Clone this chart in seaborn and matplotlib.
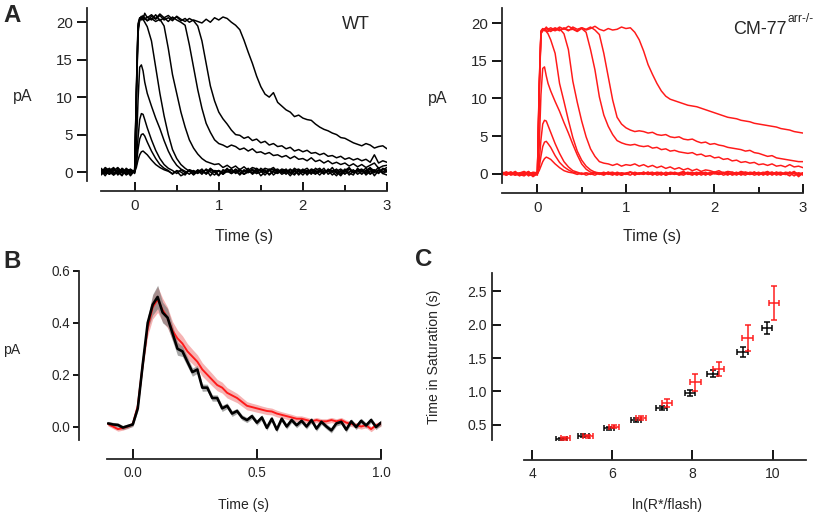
import matplotlib
matplotlib.use("Agg")
import matplotlib.pyplot as plt
import numpy as np
import pandas as pd
import seaborn as sns

# ---------------- Panel A data (pA vs time, s) ----------------
time_a = [-0.4, -0.35, -0.3, -0.25, -0.2, -0.15, -0.1, -0.05, 0.0,
          0.02, 0.04, 0.06, 0.08, 0.1, 0.12, 0.15,
          0.2, 0.25, 0.3, 0.35, 0.4, 0.45, 0.5, 0.55, 0.6, 0.65,
          0.7, 0.75, 0.8, 0.85, 0.9, 0.95, 1.0, 1.05, 1.1, 1.15,
          1.2, 1.25, 1.3, 1.35, 1.4, 1.45, 1.5, 1.55, 1.6, 1.65,
          1.7, 1.75, 1.8, 1.85, 1.9, 1.95, 2.0, 2.05, 2.1, 2.15,
          2.2, 2.25, 2.3, 2.35, 2.4, 2.45, 2.5, 2.55, 2.6, 2.65,
          2.7, 2.75, 2.8, 2.85, 2.9, 2.95, 3.0]

wt_1 = [0.3, -0.2, 0.4, -0.3, 0.1, -0.4, 0.5, -0.1, 0.0,
        0.6, 1.6, 2.3, 2.7, 2.8, 2.6, 2.3,
        1.6, 1.0, 0.6, 0.3, 0.1, -0.2, 0.1, -0.5, -0.2, 0.3,
        -0.1, 0.2, -0.3, 0.4, 0.0, -0.4, 0.2, -0.1, 0.5, -0.2,
        0.1, -0.3, 0.3, -0.1, 0.4, -0.2, 0.0, 0.3, -0.4, 0.1,
        0.2, -0.3, 0.0, 0.4, -0.2, 0.1, -0.4, 0.2, 0.0, -0.3,
        0.3, -0.1, 0.2, -0.4, 0.1, 0.4, -0.2, 0.0, 0.3, -0.3,
        0.1, 0.5, -0.2, 0.2, -0.1, 0.4, 0.0]
wt_2 = [-0.3, 0.4, 0.0, 0.5, -0.4, 0.2, -0.2, 0.3, 0.1,
        1.0, 3.0, 4.4, 5.0, 5.1, 4.8, 4.0,
        2.8, 1.8, 1.0, 0.5, 0.2, -0.3, 0.2, 0.0, -0.4, 0.3,
        0.1, -0.2, 0.4, -0.3, 0.2, 0.0, -0.5, 0.3, 0.1, -0.2,
        0.4, 0.0, -0.3, 0.2, -0.1, 0.5, 0.1, -0.4, 0.2, 0.0,
        -0.2, 0.3, 0.1, -0.5, 0.2, 0.4, -0.1, 0.0, 0.3, -0.2,
        0.0, 0.5, -0.3, 0.1, 0.3, -0.2, 0.4, -0.4, 0.1, 0.2,
        -0.3, 0.2, 0.6, -0.1, 0.3, -0.2, 0.1]
wt_3 = [0.5, 0.0, -0.3, 0.2, 0.6, -0.1, 0.3, -0.5, 0.2,
        1.5, 4.5, 7.0, 7.8, 7.7, 7.0, 5.9,
        4.3, 2.9, 1.8, 1.0, 0.5, 0.2, -0.2, 0.3, -0.1, 0.2,
        -0.4, 0.1, 0.3, -0.2, 0.5, 0.0, 0.2, -0.3, 0.1, 0.4,
        -0.2, 0.2, 0.0, 0.5, -0.3, 0.1, 0.3, -0.1, 0.4, -0.4,
        0.1, 0.0, 0.4, -0.2, 0.3, -0.4, 0.2, 0.5, -0.1, 0.1,
        -0.4, 0.2, 0.0, 0.6, -0.2, 0.1, -0.3, 0.4, 0.0, 0.2,
        0.4, -0.4, 0.1, 0.3, -0.2, 0.5, 0.2]
wt_4 = [-0.1, 0.6, 0.2, -0.4, 0.0, 0.4, -0.3, 0.1, 0.0,
        3.0, 9.5, 14.0, 14.3, 13.5, 12.0, 10.5,
        8.8, 7.2, 5.8, 4.2, 2.8, 1.7, 0.9, 0.4, 0.1, -0.3,
        0.2, -0.1, 0.0, 0.3, -0.5, 0.2, 0.1, -0.3, 0.4, 0.0,
        0.3, -0.4, 0.2, 0.1, -0.2, 0.3, -0.5, 0.0, 0.2, 0.4,
        -0.1, 0.2, -0.3, 0.3, 0.1, -0.2, 0.4, -0.4, 0.2, 0.0,
        0.2, -0.3, 0.4, 0.0, -0.5, 0.3, 0.1, -0.1, -0.4, 0.5,
        0.0, 0.2, -0.3, 0.1, 0.6, -0.2, -0.4]
wt_5 = [0.2, -0.5, 0.3, 0.0, -0.2, 0.5, 0.1, -0.3, 0.3,
        10.0, 19.0, 20.4, 20.6, 20.4, 20.0, 19.4,
        17.5, 14.0, 10.5, 7.5, 5.0, 3.0, 1.8, 1.0, 0.5, 0.1,
        -0.3, 0.3, 0.0, -0.2, 0.4, 0.1, -0.4, 0.2, 0.0, 0.3,
        -0.1, 0.4, -0.3, 0.0, 0.2, -0.2, 0.5, 0.1, -0.3, 0.2,
        0.4, -0.1, 0.2, 0.0, -0.4, 0.3, 0.1, 0.2, -0.3, 0.5,
        0.1, -0.2, 0.3, 0.2, 0.0, -0.5, 0.2, 0.4, -0.1, 0.0,
        0.3, -0.1, 0.4, -0.5, 0.2, 0.0, 0.3]
wt_6 = [-0.4, 0.1, 0.5, -0.2, 0.3, -0.1, 0.0, 0.4, -0.2,
        11.0, 19.5, 20.5, 20.8, 20.3, 20.6, 20.2,
        20.5, 20.1, 20.4, 19.5, 16.5, 13.0, 10.5, 8.0, 6.0, 4.3,
        3.2, 2.4, 1.8, 1.4, 1.2, 1.0, 1.1, 0.6, 0.9, 0.5,
        0.8, 0.3, 0.7, 0.2, 0.6, 0.4, 0.1, 0.5, 0.3, 0.6,
        0.0, 0.4, 0.2, -0.1, 0.5, 0.1, 0.3, -0.2, 0.4, 0.2,
        0.5, -0.1, 0.3, 0.0, 0.4, -0.3, 0.2, 0.6, -0.1, 0.3,
        0.1, -0.2, 0.5, 0.2, -0.1, 0.3, 0.6]
wt_7 = [0.1, 0.4, -0.3, 0.3, 0.0, -0.5, 0.4, 0.2, -0.1,
        9.0, 18.5, 20.3, 20.5, 20.8, 20.4, 20.7,
        20.3, 21.0, 20.2, 20.6, 20.1, 20.7, 20.3, 20.0, 19.6, 17.0,
        14.0, 11.0, 8.5, 6.5, 5.3, 4.3, 3.8, 3.6, 3.3, 3.6,
        3.4, 3.0, 3.2, 2.8, 3.1, 2.6, 2.7, 2.4, 2.6, 2.2,
        2.3, 2.0, 2.2, 1.8, 2.1, 1.7, 1.8, 1.5, 1.9, 1.4,
        1.6, 1.2, 1.5, 1.1, 1.3, 1.0, 1.2, 0.8, 1.1, 0.7,
        1.0, 0.6, 0.9, 1.2, 0.5, 0.8, 0.9]
wt_8 = [0.3, -0.2, 0.2, 0.6, -0.3, 0.2, -0.4, 0.0, 0.2,
        10.5, 19.8, 20.6, 20.3, 20.9, 20.5, 20.2,
        20.8, 20.4, 20.9, 20.3, 20.6, 20.2, 20.8, 20.4, 20.1, 20.5,
        20.2, 19.5, 17.5, 14.5, 11.5, 9.5, 8.0, 7.1, 6.4, 5.6,
        5.0, 4.9, 4.5, 4.7, 4.2, 4.4, 3.9, 4.1, 3.6, 3.8,
        3.4, 3.5, 3.1, 3.3, 2.8, 3.0, 2.7, 2.9, 2.5, 2.6,
        2.3, 2.5, 2.1, 2.2, 1.9, 2.1, 1.7, 1.9, 1.6, 1.8,
        1.5, 1.7, 1.3, 2.3, 1.2, 1.5, 1.3]
wt_9 = [-0.2, 0.3, 0.0, -0.4, 0.5, 0.1, -0.2, 0.3, 0.0,
        9.5, 19.2, 20.3, 20.7, 20.4, 21.2, 20.6,
        21.0, 20.5, 21.1, 20.6, 20.9, 20.4, 20.7, 20.2, 20.5, 20.0,
        20.3, 20.1, 19.9, 20.4, 20.0, 20.6, 20.3, 20.7, 20.5, 20.0,
        19.6, 19.0, 17.6, 16.0, 14.5, 12.8, 11.4, 10.4, 10.0, 10.6,
        9.3, 8.8, 8.3, 8.0, 7.4, 7.6, 7.2, 7.0, 6.9, 6.4,
        6.0, 5.7, 5.5, 5.2, 5.0, 4.6, 4.5, 4.2, 3.9, 3.7,
        3.5, 3.8, 3.6, 3.2, 3.4, 3.5, 3.1]

cm_1 = [0.1, -0.2, 0.2, 0.0, -0.3, 0.2, -0.1, 0.1, 0.0,
        0.4, 1.0, 1.6, 2.0, 2.2, 2.1, 1.9,
        1.3, 0.8, 0.4, 0.2, 0.1, -0.1, 0.1, -0.2, 0.0, 0.2,
        -0.1, 0.1, 0.0, -0.2, 0.2, 0.0, -0.1, 0.2, -0.2, 0.1,
        0.0, 0.2, -0.1, 0.1, -0.2, 0.2, 0.0, -0.1, 0.1, 0.3,
        -0.1, 0.0, 0.2, -0.2, 0.1, 0.0, 0.2, -0.1, 0.1, -0.2,
        0.2, 0.0, -0.1, 0.2, 0.1, -0.2, 0.0, 0.2, -0.1, 0.1,
        0.0, -0.2, 0.2, 0.1, -0.3, 0.1, 0.0]
cm_2 = [-0.1, 0.2, 0.0, -0.2, 0.1, 0.3, -0.1, -0.3, 0.1,
        0.8, 2.3, 3.6, 4.2, 4.3, 4.0, 3.5,
        2.4, 1.5, 0.9, 0.5, 0.2, 0.1, -0.1, 0.1, 0.0, -0.2,
        0.1, 0.0, 0.2, -0.1, 0.1, -0.2, 0.0, 0.2, 0.1, -0.1,
        0.2, -0.1, 0.0, 0.2, 0.1, -0.2, 0.1, 0.0, -0.1, 0.2,
        0.0, 0.1, -0.2, 0.2, -0.1, 0.1, 0.0, 0.2, -0.2, 0.0,
        0.1, -0.2, 0.2, 0.0, -0.1, 0.2, -0.2, 0.1, 0.3, -0.1,
        0.2, 0.0, -0.1, 0.2, 0.0, 0.1, -0.2]
cm_3 = [0.2, 0.0, -0.1, 0.3, -0.2, 0.0, 0.2, -0.1, 0.0,
        1.5, 4.5, 6.6, 7.1, 7.0, 6.4, 5.5,
        4.0, 2.7, 1.6, 0.9, 0.4, 0.2, 0.0, 0.1, -0.1, 0.1,
        0.0, -0.2, 0.1, 0.2, -0.1, 0.1, 0.0, -0.2, 0.2, 0.0,
        -0.1, 0.1, 0.2, -0.2, 0.0, 0.1, -0.1, 0.2, 0.0, -0.2,
        0.1, 0.2, -0.1, 0.0, 0.2, -0.2, 0.1, 0.0, 0.2, -0.1,
        0.0, 0.2, -0.2, 0.1, 0.0, 0.2, -0.1, 0.0, 0.1, 0.2,
        -0.2, 0.1, 0.0, -0.3, 0.2, -0.4, 0.1]
cm_4 = [-0.2, 0.1, 0.2, -0.1, 0.0, 0.2, -0.3, 0.1, 0.0,
        3.5, 10.5, 14.0, 14.2, 13.0, 12.0, 11.0,
        9.6, 8.3, 6.8, 5.4, 3.9, 2.5, 1.3, 0.6, 0.2, 0.1,
        0.0, 0.2, -0.1, 0.1, 0.0, -0.2, 0.1, 0.2, -0.1, 0.0,
        0.2, -0.1, 0.1, 0.0, 0.2, -0.2, 0.0, 0.1, -0.1, 0.2,
        0.0, -0.2, 0.1, 0.2, -0.1, 0.0, 0.2, -0.1, 0.1, 0.0,
        -0.1, 0.1, 0.0, -0.2, 0.2, 0.1, 0.0, -0.1, 0.2, -0.2,
        0.1, 0.2, -0.1, 0.0, 0.2, -0.1, 0.1]
cm_5 = [0.0, -0.2, 0.1, 0.2, -0.1, -0.3, 0.1, 0.0, 0.2,
        11.0, 18.6, 19.0, 19.2, 18.9, 18.6, 17.8,
        16.0, 12.0, 9.6, 7.1, 4.8, 3.0, 1.8, 1.0, 0.5, 0.2,
        0.1, -0.1, 0.2, 0.0, -0.2, 0.1, 0.0, 0.2, -0.1, 0.1,
        0.0, 0.2, -0.2, 0.1, 0.0, -0.1, 0.2, 0.1, -0.2, 0.0,
        0.2, -0.1, 0.0, 0.1, -0.2, 0.2, 0.0, -0.1, 0.1, 0.2,
        -0.2, 0.0, 0.1, 0.2, -0.1, 0.0, 0.2, -0.2, 0.1, 0.0,
        0.2, -0.1, 0.1, 0.0, 0.3, -0.2, 0.0]
cm_6 = [0.1, 0.2, -0.2, 0.0, 0.1, -0.1, 0.2, 0.0, -0.2,
        12.0, 18.8, 19.1, 19.3, 19.0, 18.9, 19.2,
        19.0, 19.3, 18.6, 16.5, 12.3, 9.5, 7.0, 4.9, 3.3, 2.3,
        1.6, 1.4, 1.3, 1.1, 1.3, 1.0, 1.2, 1.1, 1.3, 1.0,
        1.2, 0.9, 1.1, 0.8, 1.0, 0.7, 0.9, 0.6, 0.8, 0.5,
        0.7, 0.4, 0.6, 0.3, 0.5, 0.4, 0.2, 0.4, 0.1, 0.3,
        0.2, 0.0, 0.3, 0.1, -0.1, 0.2, 0.0, 0.1, -0.2, 0.2,
        0.0, 0.1, -0.1, 0.2, 0.0, -0.2, 0.1]
cm_7 = [-0.1, 0.0, 0.2, -0.2, 0.1, 0.0, -0.1, 0.2, 0.1,
        10.5, 18.9, 19.2, 19.0, 19.4, 19.1, 18.9,
        19.3, 19.0, 19.4, 19.1, 19.2, 18.9, 19.3, 18.8, 16.5, 13.8,
        10.2, 7.8, 6.3, 5.2, 4.4, 4.1, 3.9, 3.8, 3.9, 3.7,
        3.6, 3.7, 3.4, 3.5, 3.2, 3.3, 3.0, 3.1, 2.9, 2.8,
        2.7, 2.8, 2.5, 2.6, 2.3, 2.4, 2.1, 2.2, 1.9, 2.0,
        1.7, 1.8, 1.5, 1.6, 1.4, 1.5, 1.2, 1.3, 1.1, 1.3,
        1.0, 1.1, 0.9, 1.2, 0.9, 1.0, 0.8]
cm_8 = [0.2, -0.1, 0.0, 0.1, -0.2, 0.2, 0.0, -0.1, 0.1,
        11.5, 19.0, 19.3, 19.1, 19.5, 19.2, 19.4,
        19.1, 19.5, 19.2, 19.6, 19.3, 19.0, 19.4, 19.2, 19.5, 19.1,
        18.5, 16.0, 12.9, 9.8, 7.5, 6.6, 6.1, 5.8, 5.6, 5.7,
        5.6, 5.4, 5.5, 5.2, 5.1, 5.2, 4.9, 4.8, 4.9, 4.6,
        4.5, 4.6, 4.3, 4.1, 4.2, 3.9, 4.0, 3.8, 3.7, 3.5,
        3.4, 3.3, 3.2, 3.0, 3.1, 2.8, 2.7, 2.5, 2.3, 2.4,
        2.1, 2.0, 1.9, 1.8, 1.7, 1.6, 1.6]
cm_9 = [0.0, 0.2, -0.1, 0.1, -0.2, 0.0, 0.3, -0.4, 0.0,
        10.0, 18.7, 19.0, 19.2, 19.0, 19.3, 19.1,
        19.4, 19.1, 19.3, 19.0, 19.5, 19.2, 19.4, 19.1, 19.3, 19.6,
        19.2, 19.0, 19.3, 19.1, 19.2, 19.5, 19.3, 19.4, 18.8, 17.8,
        16.3, 14.5, 13.2, 12.0, 11.0, 10.3, 9.9, 9.7, 9.5, 9.3,
        9.1, 9.0, 8.9, 8.7, 8.5, 8.3, 8.1, 7.9, 7.7, 7.5,
        7.4, 7.3, 7.1, 7.0, 6.9, 6.7, 6.6, 6.5, 6.4, 6.3,
        6.2, 6.0, 5.9, 5.8, 5.6, 5.5, 5.4]

# ---------------- Panel B data (mean +/- sem, pA) ----------------
time_b = [-0.10, -0.08, -0.06, -0.04, -0.02, 0.00, 0.02, 0.04, 0.06, 0.08,
          0.10, 0.12, 0.14, 0.16, 0.18, 0.20, 0.22, 0.24, 0.26, 0.28,
          0.30, 0.32, 0.34, 0.36, 0.38, 0.40, 0.42, 0.44, 0.46, 0.48,
          0.50, 0.52, 0.54, 0.56, 0.58, 0.60, 0.62, 0.64, 0.66, 0.68,
          0.70, 0.72, 0.74, 0.76, 0.78, 0.80, 0.82, 0.84, 0.86, 0.88,
          0.90, 0.92, 0.94, 0.96, 0.98, 1.00]
wt_mean_b = [0.012, 0.008, 0.006, -0.004, 0.002, 0.008, 0.07, 0.24, 0.40, 0.47,
             0.50, 0.44, 0.42, 0.36, 0.30, 0.29, 0.25, 0.21, 0.22, 0.15,
             0.15, 0.11, 0.11, 0.07, 0.08, 0.05, 0.06, 0.035, 0.025, 0.04,
             0.015, 0.035, -0.005, 0.03, -0.012, 0.03, 0.0, 0.025, 0.005, 0.022,
             0.0, 0.025, -0.008, 0.018, 0.0, -0.015, 0.012, 0.018, -0.012, 0.02,
             -0.002, 0.022, 0.004, 0.025, -0.002, 0.015]
wt_sem_b = [0.008, 0.008, 0.008, 0.008, 0.008, 0.008, 0.01, 0.015, 0.025, 0.04,
            0.045, 0.04, 0.035, 0.03, 0.025, 0.02, 0.018, 0.016, 0.015, 0.014,
            0.013, 0.012, 0.012, 0.012, 0.011, 0.011, 0.01, 0.01, 0.01, 0.01,
            0.01, 0.01, 0.01, 0.01, 0.01, 0.01, 0.01, 0.01, 0.01, 0.01,
            0.01, 0.01, 0.01, 0.01, 0.01, 0.01, 0.01, 0.01, 0.01, 0.01,
            0.01, 0.01, 0.01, 0.01, 0.01, 0.01]
cm_mean_b = [0.01, 0.0, -0.01, -0.006, 0.0, 0.01, 0.08, 0.24, 0.38, 0.46,
             0.49, 0.45, 0.42, 0.37, 0.34, 0.32, 0.29, 0.27, 0.25, 0.22,
             0.20, 0.18, 0.16, 0.15, 0.13, 0.12, 0.11, 0.095, 0.08, 0.075,
             0.07, 0.065, 0.06, 0.058, 0.05, 0.045, 0.04, 0.035, 0.03, 0.03,
             0.025, 0.02, 0.025, 0.02, 0.02, 0.025, 0.02, 0.025, 0.015, 0.01,
             0.005, 0.0, 0.005, -0.01, 0.005, 0.01]
cm_sem_b = [0.008, 0.008, 0.008, 0.008, 0.008, 0.008, 0.012, 0.02, 0.03, 0.045,
            0.05, 0.045, 0.04, 0.035, 0.032, 0.03, 0.03, 0.028, 0.027, 0.026,
            0.025, 0.024, 0.022, 0.021, 0.02, 0.019, 0.018, 0.017, 0.016, 0.015,
            0.015, 0.014, 0.014, 0.013, 0.013, 0.012, 0.012, 0.012, 0.011, 0.011,
            0.011, 0.01, 0.01, 0.01, 0.01, 0.01, 0.01, 0.01, 0.01, 0.01,
            0.01, 0.01, 0.01, 0.01, 0.01, 0.01]

# ---------------- Panel C data ----------------
c_wt_x = [4.73, 5.28, 5.92, 6.59, 7.23, 7.94, 8.50, 9.25, 9.86]
c_wt_y = [0.285, 0.34, 0.45, 0.575, 0.76, 0.975, 1.265, 1.585, 1.945]
c_wt_xerr = [0.13, 0.13, 0.12, 0.13, 0.13, 0.13, 0.13, 0.13, 0.13]
c_wt_yerr = [0.02, 0.02, 0.025, 0.025, 0.03, 0.045, 0.05, 0.075, 0.09]
c_cm_x = [4.83, 5.40, 6.04, 6.71, 7.36, 8.07, 8.65, 9.375, 10.03]
c_cm_y = [0.30, 0.33, 0.475, 0.605, 0.825, 1.135, 1.335, 1.80, 2.325]
c_cm_xerr = [0.12, 0.13, 0.12, 0.12, 0.12, 0.13, 0.13, 0.13, 0.13]
c_cm_yerr = [0.02, 0.02, 0.02, 0.025, 0.06, 0.125, 0.10, 0.19, 0.25]

RED = "#ff1a1a"

sns.set_theme(style="ticks")
plt.rcParams["font.family"] = ["Liberation Sans", "DejaVu Sans"]
plt.rcParams["axes.linewidth"] = 1.8

W, H = 820, 514
fig = plt.figure(figsize=(W / 72, H / 72), dpi=72)


def place(l, r, t, b):
    return fig.add_axes([l / W, 1 - b / H, (r - l) / W, (b - t) / H])


def ftext(x, y, s, **kw):
    fig.text(x / W, 1 - y / H, s, **kw)


def style(ax, left_out, bottom_out, xlen, ylen, fs, xpad, ypad, ydir="out"):
    sns.despine(ax=ax)
    ax.spines["left"].set_position(("outward", left_out))
    ax.spines["bottom"].set_position(("outward", bottom_out))
    ax.set_facecolor("none")
    ax.tick_params(axis="x", which="major", direction="in", length=xlen,
                   width=1.8, labelsize=fs, pad=xpad, color="black")
    ax.tick_params(axis="x", which="minor", direction="in", length=xlen * 0.65,
                   width=1.8, color="black")
    ax.tick_params(axis="y", direction=ydir, length=ylen, width=1.8,
                   labelsize=fs, pad=ypad, color="black")
    ax.set_xlabel("")
    ax.set_ylabel("")


def traces_df(traces):
    rows = []
    for k, tr in enumerate(traces):
        rows.append(pd.DataFrame({"t": time_a, "pA": tr, "trace": k}))
    return pd.concat(rows, ignore_index=True)


# ---------------- Panel A : WT ----------------
ax1 = place(101, 387, 8, 181)
df_wt = traces_df([wt_1, wt_2, wt_3, wt_4, wt_5, wt_6, wt_7, wt_8, wt_9])
sns.lineplot(data=df_wt, x="t", y="pA", units="trace", estimator=None,
             color="black", lw=1.5, ax=ax1, sort=False, legend=False)
ax1.set_xlim(-0.4, 3.0)
ax1.set_ylim(-1.2, 21.9)
ax1.set_xticks([0, 1, 2, 3])
ax1.set_xticks([0.5, 1.5, 2.5], minor=True)
ax1.set_yticks([0, 5, 10, 15, 20])
style(ax1, 14, 10, 9, 10, 15, 8, 4)

# ---------------- Panel A : CM-77 ----------------
ax2 = place(502, 803, 8, 183)
df_cm = traces_df([cm_1, cm_2, cm_3, cm_4, cm_5, cm_6, cm_7, cm_8, cm_9])
sns.lineplot(data=df_cm, x="t", y="pA", units="trace", estimator=None,
             color=RED, lw=1.5, ax=ax2, sort=False, legend=False)
ax2.set_xlim(-0.4, 3.0)
ax2.set_ylim(-1.24, 22.03)
ax2.set_xticks([0, 1, 2, 3])
ax2.set_xticks([0.5, 1.5, 2.5], minor=True)
ax2.set_yticks([0, 5, 10, 15, 20])
style(ax2, 0, 10, 9, 10, 15, 8, 4)

# ---------------- Panel B ----------------
ax3 = place(107, 381, 271, 440)
tb = np.array(time_b)
for mean, sem, band in [(cm_mean_b, cm_sem_b, "#f28a8a"),
                        (wt_mean_b, wt_sem_b, "#7a7a7a")]:
    m = np.array(mean)
    s = np.array(sem)
    ax3.fill_between(tb, m - s, m + s, color=band, alpha=0.65, lw=0)
df_b = pd.concat([
    pd.DataFrame({"t": time_b, "pA": cm_mean_b, "g": "CM-77"}),
    pd.DataFrame({"t": time_b, "pA": wt_mean_b, "g": "WT"}),
])
sns.lineplot(data=df_b, x="t", y="pA", hue="g", size="g",
             sizes={"CM-77": 1.9, "WT": 2.6},
             palette={"CM-77": RED, "WT": "black"}, ax=ax3,
             legend=False, sort=False)
ax3.set_xlim(-0.104, 1.0)
ax3.set_ylim(-0.052, 0.6)
ax3.set_xticks([0.0, 0.5, 1.0])
ax3.set_xticklabels(["0.0", "0.5", "1.0"])
ax3.set_yticks([0.0, 0.2, 0.4, 0.6])
ax3.set_yticklabels(["0.0", "0.2", "0.4", "0.6"])
style(ax3, 28, 19, 10, 6, 13.5, 7, 3)

# ---------------- Panel C ----------------
ax4 = place(524, 806, 273, 440)
ax4.errorbar(c_wt_x, c_wt_y, xerr=c_wt_xerr, yerr=c_wt_yerr, fmt="none",
             ecolor="black", elinewidth=1.5, capsize=3, capthick=1.5)
ax4.errorbar(c_cm_x, c_cm_y, xerr=c_cm_xerr, yerr=c_cm_yerr, fmt="none",
             ecolor=RED, elinewidth=1.5, capsize=3, capthick=1.5)
ax4.set_xlim(3.8, 10.83)
ax4.set_ylim(0.275, 2.77)
ax4.set_xticks([4, 6, 8, 10])
ax4.set_yticks([0.5, 1.0, 1.5, 2.0, 2.5])
ax4.set_yticklabels(["0.5", "1.0", "1.5", "2.0", "2.5"])
style(ax4, 32, 20, 10, 9, 14, 7, 5, ydir="in")

# ---------------- Text ----------------
ftext(12, 15, "A", fontsize=24, fontweight="bold", ha="center", va="center")
ftext(12, 261, "B", fontsize=24, fontweight="bold", ha="center", va="center")
ftext(424, 259, "C", fontsize=24, fontweight="bold", ha="center", va="center")

ftext(23, 96, "pA", fontsize=16, ha="center", va="center")
ftext(356, 24, "WT", fontsize=18, ha="center", va="center")
ftext(244, 237, "Time (s)", fontsize=16, ha="center", va="center")

ftext(438, 98, "pA", fontsize=16, ha="center", va="center")
ftext(787, 30, "CM-77", fontsize=18, ha="right", va="center")
ftext(787, 19, "arr-/-", fontsize=12, ha="left", va="center")
ftext(652, 237, "Time (s)", fontsize=16, ha="center", va="center")

ftext(12, 350, "pA", fontsize=14, ha="center", va="center")
ftext(244, 505, "Time (s)", fontsize=14, ha="center", va="center")

ftext(434, 357, "Time in Saturation (s)", fontsize=14, ha="center",
      va="center", rotation=90)
ftext(667, 505, "ln(R*/flash)", fontsize=14, ha="center", va="center")

fig.savefig("out.png", dpi=72)
